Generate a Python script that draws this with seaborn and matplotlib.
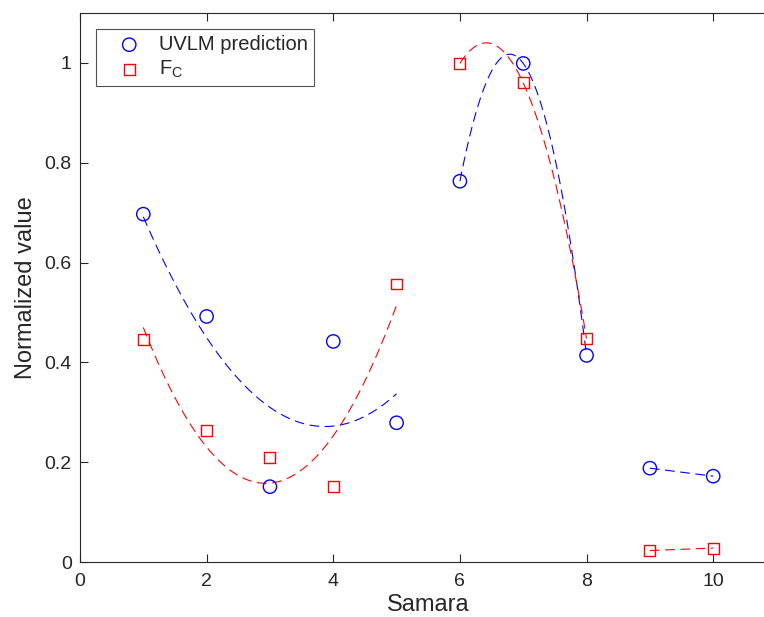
import numpy as np
import matplotlib
matplotlib.use('Agg')
import matplotlib.pyplot as plt
from matplotlib.ticker import FuncFormatter
import seaborn as sns

# ---- data ----
samara = [1, 2, 3, 4, 5, 6, 7, 8, 9, 10]
uvlm_pred = [0.697, 0.492, 0.151, 0.442, 0.279, 0.763, 0.999, 0.414, 0.188, 0.172]
f_c = [0.445, 0.263, 0.210, 0.151, 0.557, 0.999, 0.960, 0.448, 0.023, 0.028]

# fitted groups: (first index, last index + 1, polynomial order)
groups = [(0, 5, 2), (5, 8, 2), (8, 10, 1)]

# ---- style (MATLAB-like) ----
sns.set_style('ticks')
plt.rcParams['font.family'] = ['Liberation Sans', 'DejaVu Sans']
plt.rcParams['mathtext.fontset'] = 'custom'
plt.rcParams['mathtext.rm'] = 'Liberation Sans'
plt.rcParams['mathtext.it'] = 'Liberation Sans'
plt.rcParams['lines.scale_dashes'] = False
AX_COL = '#262626'
plt.rcParams['axes.edgecolor'] = AX_COL
plt.rcParams['xtick.color'] = AX_COL
plt.rcParams['ytick.color'] = AX_COL
plt.rcParams['axes.labelcolor'] = AX_COL

fig = plt.figure(figsize=(7.64, 6.17), dpi=100)
ax = fig.add_axes([0.1047, 0.0891, 0.9117, 0.8898])

dash = (0, (7, 4))
for lo, hi, order in groups:
    sns.regplot(x=samara[lo:hi], y=uvlm_pred[lo:hi], order=order, ci=None, scatter=False,
                color='blue', line_kws={'lw': 0.8, 'ls': dash}, ax=ax)
    sns.regplot(x=samara[lo:hi], y=f_c[lo:hi], order=order, ci=None, scatter=False,
                color='red', line_kws={'lw': 0.8, 'ls': dash}, ax=ax)

sns.scatterplot(x=samara, y=uvlm_pred, marker='o', s=92, facecolor='none',
                edgecolor='blue', linewidth=1.0, label='UVLM prediction', ax=ax, zorder=3)
sns.scatterplot(x=samara, y=f_c, marker='s', s=62, facecolor='none',
                edgecolor='red', linewidth=1.0, label=r'F$_\mathrm{C}$', ax=ax, zorder=3)

ax.set_xlim(0, 11)
ax.set_ylim(0, 1.1)
ax.set_xticks(np.arange(0, 11, 2))
ax.set_yticks(np.arange(0, 1.01, 0.2))
ax.yaxis.set_major_formatter(FuncFormatter(lambda v, p: f'{v:g}'))
ax.tick_params(direction='in', length=6, width=0.8, labelsize=14,
               top=True, right=True)
ax.tick_params(axis='x', pad=8)
ax.tick_params(axis='y', pad=6)
for s in ax.spines.values():
    s.set_linewidth(0.8)

ax.set_xlabel('Samara', fontsize=17, labelpad=3)
ax.set_ylabel('Normalized value', fontsize=17, labelpad=5)

leg = ax.legend(loc='upper left', bbox_to_anchor=(0.023, 0.971), borderaxespad=0,
                fontsize=14.5, frameon=True, fancybox=False, handletextpad=0.15,
                borderpad=0.3, labelspacing=0.25, handlelength=2.7)
leg.get_frame().set_edgecolor(AX_COL)
leg.get_frame().set_linewidth(0.8)

fig.savefig('out.png', dpi=100)
